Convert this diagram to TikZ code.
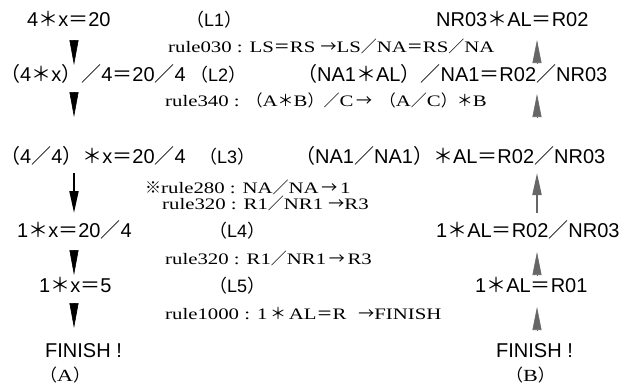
\documentclass[tikz,border=0pt]{standalone}
\usepackage{fontspec}
\setmainfont{Liberation Serif}
\newfontfamily\rulef[FakeStretch=1.3]{Liberation Serif}
\newfontfamily\sansf{Liberation Sans}
\newfontfamily\cjk{Noto Sans CJK JP}
\usetikzlibrary{arrows.meta}
\newcommand\zAst{{\cjk ＊}}
\newcommand\zEq{{\cjk ＝}}
\newcommand\zSl{{\cjk ／}}
\newcommand\zLp{{\cjk （}}
\newcommand\zRp{{\cjk ）}}
\newcommand\zAr{{\cjk →}}
\newcommand\zKome{{\cjk ※}}
\tikzset{
  expr/.style={font=\sansf\fontsize{20}{20}\selectfont, inner sep=0pt, anchor=base west},
  lab/.style={font=\sansf\fontsize{18}{18}\selectfont, inner sep=0pt, anchor=base west},
  rulet/.style={font=\rulef\fontsize{16}{16}\selectfont, inner sep=0pt, anchor=base west},
  capt/.style={font=\rulef\fontsize{17}{17}\selectfont, inner sep=0pt, anchor=base west},
  darr/.style={draw=black, fill=black, line width=0.6pt, -{Triangle[length=25pt,width=9pt]}},
  darrlong/.style={draw=black, line width=2pt, -{Triangle[length=22pt,width=9pt]}},
  uarr/.style={draw=black!60, fill=black!60, line width=0.6pt, -{Triangle[length=23pt,width=9pt]}},
  uarrlong/.style={draw=black!60, line width=2pt, -{Triangle[length=22pt,width=9pt]}},
}
\begin{document}
\begin{tikzpicture}[x=1pt,y=-1pt]
\useasboundingbox (0,0) rectangle (626,388);
% left column
\node[expr] (l1) at (27,26) {4\zAst x\zEq 20};
\node[expr] (l2) at (0,81) {\zLp 4\zAst x\zRp \zSl 4\zEq 20\zSl 4};
\node[expr] (l3) at (0,163) {\zLp 4\zSl 4\zRp \zAst x\zEq 20\zSl 4};
\node[expr] (l4) at (17,237) {1\zAst x\zEq 20\zSl 4};
\node[expr] (l5) at (39,292) {1\zAst x\zEq 5};
\node[expr] (lf) at (45,357) {FINISH !};
\node[capt] (ca) at (40,381) {\zLp A\zRp};
% labels
\node[lab] (n1) at (186,26) {\zLp L1\zRp};
\node[lab] (n2) at (190,81) {\zLp L2\zRp};
\node[lab] (n3) at (199,163) {\zLp L3\zRp};
\node[lab] (n4) at (209,237) {\zLp L4\zRp};
\node[lab] (n5) at (209,292) {\zLp L5\zRp};
% rules
\node[rulet] (r1) at (168,52) {rule030 : LS\zEq RS\ \zAr LS\zSl NA\zEq RS\zSl NA};
\node[rulet] (r2) at (165,106) {rule340 : \zLp A\zAst B\zRp \zSl C\,\zAr\, \zLp A\zSl C\zRp \zAst B};
\node[rulet] (r3) at (145,193) {\zKome rule280 : NA\zSl NA\,\zAr\,1};
\node[rulet] (r4) at (162,209) {rule320 : R1\zSl NR1\ \zAr R3};
\node[rulet] (r5) at (165,264) {rule320 : R1\zSl NR1\,\zAr\,R3};
\node[rulet] (r6) at (165,319) {rule1000 : 1\,\zAst\,AL\zEq R\hspace{12pt}\zAr FINISH};
% right column
\node[expr] (m1) at (436,26) {NR03\zAst AL\zEq R02};
\node[expr] (m2) at (297,81) {\zLp NA1\zAst AL\zRp \zSl NA1\zEq R02\zSl NR03};
\node[expr] (m3) at (295,163) {\zLp NA1\zSl NA1\zRp \zAst AL\zEq R02\zSl NR03};
\node[expr] (m4) at (436,237) {1\zAst AL\zEq R02\zSl NR03};
\node[expr] (m5) at (475,292) {1\zAst AL\zEq R01};
\node[expr] (mf) at (496,357) {FINISH !};
\node[capt] (cb) at (506,381) {\zLp B\zRp};
% left arrows
\coordinate (a1s) at (74,40);  \coordinate (a1e) at (74,65);
\coordinate (a2s) at (74,92);  \coordinate (a2e) at (74,117);
\coordinate (a3s) at (74,173); \coordinate (a3e) at (74,213);
\coordinate (a4s) at (74,250); \coordinate (a4e) at (74,275);
\coordinate (a5s) at (74,303); \coordinate (a5e) at (74,328);
\draw[darr] (a1s) -- (a1e);
\draw[darr] (a2s) -- (a2e);
\draw[darrlong] (a3s) -- (a3e);
\draw[darr] (a4s) -- (a4e);
\draw[darr] (a5s) -- (a5e);
% right arrows
\coordinate (b1s) at (537,63);  \coordinate (b1e) at (537,40);
\coordinate (b2s) at (537,117); \coordinate (b2e) at (537,94);
\coordinate (b3s) at (537,213); \coordinate (b3e) at (537,173);
\coordinate (b4s) at (537,275); \coordinate (b4e) at (537,252);
\coordinate (b5s) at (537,330); \coordinate (b5e) at (537,307);
\draw[uarr] (b1s) -- (b1e);
\draw[uarr] (b2s) -- (b2e);
\draw[uarrlong] (b3s) -- (b3e);
\draw[uarr] (b4s) -- (b4e);
\draw[uarr] (b5s) -- (b5e);
\end{tikzpicture}
\end{document}
